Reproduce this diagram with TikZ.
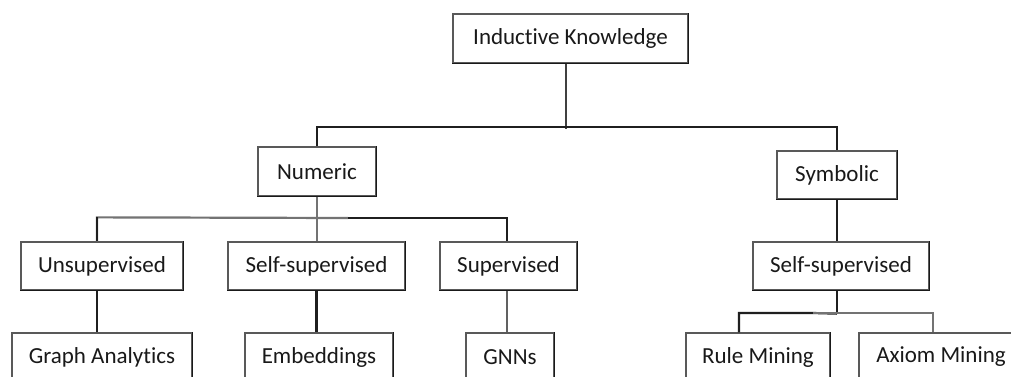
\documentclass[tikz,border=0pt]{standalone}
\usepackage{fontspec}
\setmainfont[RawFeature={-liga;-clig;-calt;-dlig}]{Carlito}
\begin{document}
\begin{tikzpicture}[x=1pt,y=1pt,
  box/.style={draw=black!65, line width=1.3pt, fill=white, inner sep=0pt,
    font=\fontsize{23}{27}\selectfont, text=black!90},
  wire/.style={draw=black!88, line width=2.2pt},
  wiregray/.style={draw=black!55, line width=2.2pt},
  edge/.style={draw=black!90, line width=1.6pt}]
\useasboundingbox (0,0) rectangle (1011,-376);
\clip (0,0) rectangle (1011,-376);
\fill[white] (0,0) rectangle (1011,-376);

% root
\node[box, minimum width=235, minimum height=49] (ik) at (570.5,-38.5) {Induc{}tive Knowledge};
% second level
\node[box, minimum width=118, minimum height=49] (num) at (317,-171.5) {Numeric};
\node[box, minimum width=120, minimum height=48] (sym) at (837,-175) {Symbolic};
% third level
\node[box, minimum width=162, minimum height=48] (uns) at (102,-266) {Unsupervised};
\node[box, minimum width=177, minimum height=48] (ssn) at (316.5,-266) {Self-supervised};
\node[box, minimum width=137, minimum height=48] (sup) at (508.5,-266) {Supervised};
\node[box, minimum width=176, minimum height=48] (sss) at (841,-266) {Self-supervised};
% leaves
\node[box, minimum width=180, minimum height=48] (ga) at (102,-357) {Graph Analyt{}ics};
\node[box, minimum width=148, minimum height=48] (emb) at (319,-357) {Embeddings};
\node[box, minimum width=88, minimum height=48] (gnn) at (510,-357) {GNNs};
\node[box, minimum width=144, minimum height=48] (rm) at (758,-357) {Rule Mining};
\node[box, minimum width=164, minimum height=48] (am) at (941,-357) {Axiom Mining};

% darker right and bottom edges of the boxes
\foreach \n in {ik,num,sym,uns,ssn,sup,sss,ga,emb,gnn,rm,am}
  \draw[edge] (\n.north east) -- (\n.south east) -- (\n.south west);

% root to Numeric / Symbolic
\draw[wire, draw=black!75] ([xshift=-4.5]ik.south) -- ++(0,-65);
\draw[wire] (num.north) -- ++(0,19) -| (sym.north);

% Numeric to its three branches
\draw[wiregray] (num.south) -- (num.south |- ssn.north);
\draw[wiregray] ([xshift=-5]uns.north) -- ++(0,24) -- (348,-218);
\draw[wire] (348,-218) -| ([xshift=-1.5]sup.north);
\draw[wire] ([xshift=-5]uns.north) -- ++(0,24);

% third level to leaves
\draw[wire] ([xshift=-5]uns.south) -- ([xshift=-5]uns.south |- ga.north);
\draw[wire] (ssn.south) -- (ssn.south |- emb.north);
\draw[wiregray, draw=black!62] ([xshift=-1.5]sup.south) -- ([xshift=-1.5]sup.south |- gnn.north);

% Symbolic branch
\draw[wire] (sym.south) -- (sym.south |- sss.north);
\draw[wire] ([xshift=-4]sss.south) -- ++(0,-23) coordinate (j);
\draw[wire] (j) -- (813,-313) -| ([xshift=-19]rm.north);
\draw[wiregray] (813,-313) -| ([xshift=-8]am.north);
\end{tikzpicture}
\end{document}
